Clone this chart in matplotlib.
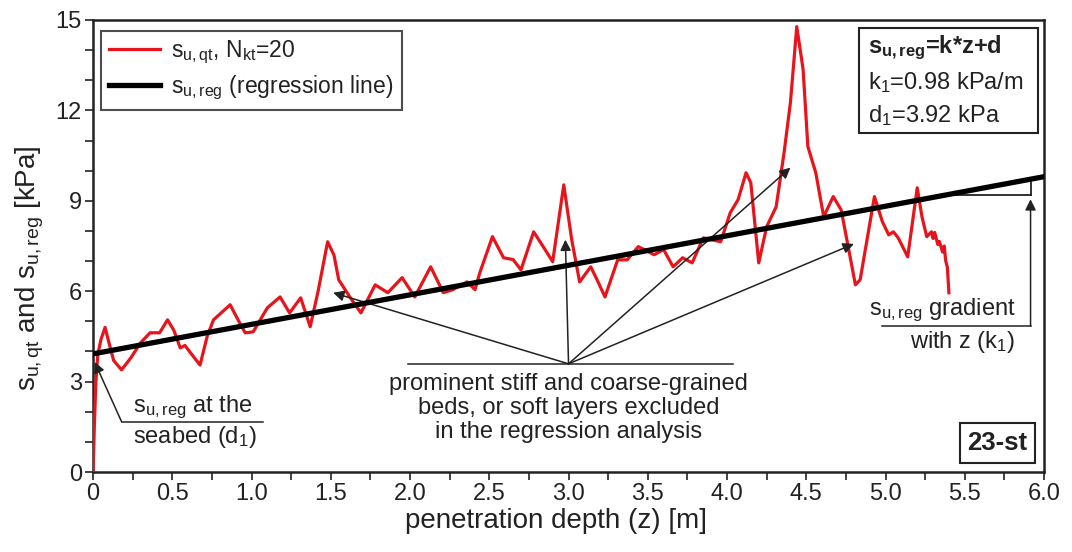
import matplotlib
matplotlib.use("Agg")
import matplotlib.pyplot as plt
from matplotlib.patches import Rectangle
from matplotlib.ticker import MultipleLocator, FixedLocator

plt.rcParams['font.family'] = ['Liberation Sans', 'DejaVu Sans']
plt.rcParams['mathtext.fontset'] = 'custom'
plt.rcParams['mathtext.rm'] = 'Liberation Sans'
plt.rcParams['mathtext.it'] = 'Liberation Sans:italic'
plt.rcParams['mathtext.bf'] = 'Liberation Sans:bold'
plt.rcParams['mathtext.default'] = 'regular'

# ---- data ----
depth_z = [0.000, 0.008, 0.018, 0.030, 0.050, 0.076, 0.10, 0.13, 0.18, 0.24,
           0.30, 0.36, 0.42, 0.47, 0.51, 0.55, 0.58, 0.61, 0.675, 0.72,
           0.76, 0.865, 0.92, 0.96, 1.01, 1.10, 1.18, 1.24, 1.31, 1.37,
           1.42, 1.48, 1.52, 1.55, 1.62, 1.69, 1.78, 1.86, 1.95, 2.03,
           2.13, 2.21, 2.27, 2.36, 2.41, 2.44, 2.52, 2.59, 2.65, 2.70,
           2.78, 2.84, 2.90, 2.97, 3.02, 3.07, 3.14, 3.18, 3.23, 3.31,
           3.37, 3.44, 3.54, 3.60, 3.66, 3.72, 3.78, 3.85, 3.96, 4.02,
           4.07, 4.12, 4.15, 4.20, 4.25, 4.31, 4.36, 4.40, 4.44, 4.48,
           4.51, 4.56, 4.61, 4.67, 4.72, 4.76, 4.81, 4.84, 4.93, 4.98,
           5.02, 5.05, 5.08, 5.14, 5.20, 5.23, 5.26, 5.29, 5.30, 5.31,
           5.33, 5.34, 5.36, 5.37, 5.38, 5.39, 5.40]
su_qt = [0.0, 1.5, 3.0, 3.9, 4.4, 4.8, 4.3, 3.7, 3.39, 3.8,
         4.29, 4.62, 4.62, 5.05, 4.7, 4.12, 4.2, 3.99, 3.55, 4.5,
         5.05, 5.55, 5.0, 4.62, 4.65, 5.45, 5.81, 5.28, 5.78, 4.82,
         6.0, 7.64, 7.2, 6.38, 5.81, 5.28, 6.21, 5.95, 6.45, 5.81,
         6.81, 5.95, 6.05, 6.31, 6.05, 6.61, 7.81, 7.11, 7.05, 6.71,
         7.97, 7.48, 6.98, 9.53, 7.71, 6.31, 6.81, 6.38, 5.81, 7.04,
         7.04, 7.48, 7.21, 7.38, 6.81, 7.11, 6.94, 7.77, 7.64, 8.60,
         9.04, 9.93, 9.60, 6.94, 8.14, 8.80, 10.6, 12.26, 14.78, 13.36,
         10.80, 9.93, 8.47, 9.14, 8.70, 7.6, 6.21, 6.38, 9.14, 8.31,
         7.87, 7.97, 7.77, 7.14, 9.43, 8.47, 7.81, 7.97, 7.75, 7.95,
         7.55, 7.65, 7.3, 7.5, 7.0, 6.8, 5.95]

k1 = 0.98   # kPa/m
d1 = 3.92   # kPa
reg_z = [0.0, 6.0]

x_ticks = [0, 0.5, 1.0, 1.5, 2.0, 2.5, 3.0, 3.5, 4.0, 4.5, 5.0, 5.5, 6.0]
x_tick_labels = ['0', '0.5', '1.0', '1.5', '2.0', '2.5', '3.0', '3.5', '4.0',
                 '4.5', '5.0', '5.5', '6.0']
y_ticks = [0, 3, 6, 9, 12, 15]

INK = '#222222'

# ---- figure ----
fig = plt.figure(figsize=(10.72, 5.52), dpi=100)
ax = fig.add_axes([0.0868, 0.1449, 0.9739 - 0.0868, 0.9638 - 0.1449])

reg_s = [d1 + k1 * z for z in reg_z]
ax.plot(depth_z, su_qt, color='#e8141b', lw=2.3, zorder=3,
        label=r'$s_{u,qt}$, $N_{kt}$=20')
ax.plot(reg_z, reg_s, color='black', lw=3.8, zorder=4,
        label=r'$s_{u,reg}$ (regression line)')

ax.set_xlim(0, 6.0)
ax.set_ylim(0, 15)
ax.xaxis.set_major_locator(FixedLocator(x_ticks))
ax.set_xticklabels(x_tick_labels)
ax.xaxis.set_minor_locator(MultipleLocator(0.25))
ax.yaxis.set_major_locator(FixedLocator(y_ticks))
ax.yaxis.set_minor_locator(MultipleLocator(1))
ax.tick_params(which='both', direction='out', width=1.2, colors=INK)
ax.tick_params(which='major', length=6, labelsize=17, pad=2)
ax.tick_params(which='minor', length=6)
for lab in ax.get_xticklabels() + ax.get_yticklabels():
    lab.set_family(['Liberation Sans Narrow', 'Liberation Sans', 'DejaVu Sans'])
    lab.set_color(INK)
for sp in ax.spines.values():
    sp.set_linewidth(1.8)
    sp.set_color(INK)

ax.set_xlabel('penetration depth (z) [m]', fontsize=20, color=INK)
ax.xaxis.set_label_coords(0.487, -0.08)
ax.set_ylabel(r'$s_{u,qt}$ and $s_{u,reg}$ [kPa]', fontsize=20, color=INK)
ax.yaxis.set_label_coords(-0.05, 0.45)

leg = ax.legend(loc='upper left', bbox_to_anchor=(0.004, 0.986), fontsize=16.5,
                frameon=True, fancybox=False, edgecolor=INK,
                handlelength=2.2, borderpad=0.35, labelspacing=0.3,
                handletextpad=0.5, borderaxespad=0.2)
leg.get_frame().set_linewidth(1.5)
for t in leg.get_texts():
    t.set_color(INK)

# equation box
ax.add_patch(Rectangle((4.83, 11.25), 5.96 - 4.83, 14.73 - 11.25, fill=True,
                       fc='white', ec=INK, lw=1.5, zorder=5))
ax.text(4.89, 14.07, r'$\mathbf{s_{u,reg}}$=k*z+d', ha='left', va='center',
        fontsize=17, fontweight='bold', color=INK, zorder=6)
ax.text(4.89, 12.94, r'$k_1$=0.98 kPa/m', ha='left', va='center',
        fontsize=17, color=INK, zorder=6)
ax.text(4.89, 11.84, r'$d_1$=3.92 kPa', ha='left', va='center',
        fontsize=17, color=INK, zorder=6)

# 23-st box
ax.text(5.707, 0.96, '23-st', ha='center', va='center', fontsize=18.5,
        fontweight='bold', color=INK,
        bbox=dict(boxstyle='square,pad=0.3', fc='white', ec=INK, lw=1.5))

arrow = dict(arrowstyle='-|>', color=INK, lw=1.1, mutation_scale=16,
             shrinkA=0, shrinkB=0)

# seabed annotation
ax.plot([0.18, 1.07], [1.67, 1.67], color=INK, lw=1.1)
ax.annotate('', xy=(0.01, 3.65), xytext=(0.18, 1.67), arrowprops=arrow)
ax.text(0.25, 2.15, r'$s_{u,reg}$ at the', ha='left', va='center', fontsize=17,
        color=INK)
ax.text(0.25, 1.15, r'seabed ($d_1$)', ha='left', va='center', fontsize=17,
        color=INK)

# central annotation
apex = (3.0, 3.59)
ax.plot([1.99, 4.04], [3.59, 3.59], color=INK, lw=1.1)
for tip in [(1.515, 5.95), (2.98, 7.71), (4.40, 10.10), (4.80, 7.57)]:
    ax.annotate('', xy=tip, xytext=apex, arrowprops=arrow)
ax.text(3.0, 2.12,
        'prominent stiff and coarse-grained\nbeds, or soft layers excluded\nin the regression analysis',
        ha='center', va='center', fontsize=17, color=INK, linespacing=1.12)

# gradient annotation
z_a, z_b = 5.37, 5.915
ax.plot([z_a, z_b], [d1 + k1 * z_a, d1 + k1 * z_a], color=INK, lw=1.3)
ax.plot([z_b, z_b], [d1 + k1 * z_a, d1 + k1 * z_b], color=INK, lw=1.3)
ax.plot([4.98, z_b], [4.85, 4.85], color=INK, lw=1.1)
ax.annotate('', xy=(z_b, 9.05), xytext=(z_b, 4.85), arrowprops=arrow)
ax.text(5.82, 5.38, r'$s_{u,reg}$ gradient', ha='right', va='center', fontsize=17,
        color=INK)
ax.text(5.82, 4.3, r'with z ($k_1$)', ha='right', va='center', fontsize=17,
        color=INK)

fig.savefig('out.png', dpi=100)
